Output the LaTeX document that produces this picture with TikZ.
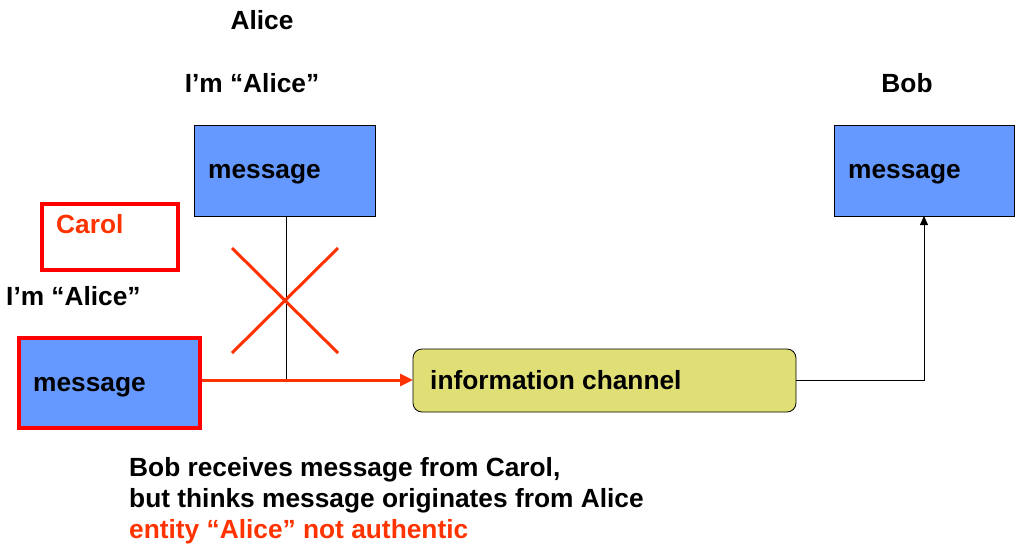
\documentclass[tikz,border=0pt]{standalone}
\usepackage{fontspec}
\setmainfont{Liberation Sans}
\usetikzlibrary{arrows.meta}
\definecolor{msgblue}{HTML}{6699FF}
\definecolor{chanyellow}{HTML}{E0DF75}
\definecolor{alertred}{HTML}{FF3300}
\definecolor{boxred}{HTML}{FF0000}
\begin{document}
\begin{tikzpicture}[x=1pt,y=-1pt,
  txt/.style={inner sep=0pt,font=\fontsize{26.3}{31}\selectfont\bfseries},
  msgbox/.style={draw=black,line width=0.8pt,fill=msgblue},
  badbox/.style={draw=boxred,line width=3.2pt},
  redline/.style={draw=alertred,line width=3pt},
  thin/.style={draw=black,line width=0.8pt}]
\useasboundingbox (0,0) rectangle (1021,547);
% boxes
\path[msgbox] (194,125) rectangle (375,216);
\coordinate (aliceboxbot) at (286,216);
\path[msgbox] (834,125) rectangle (1014,216);
\coordinate (bobboxbot) at (924,216);
\path[badbox,fill=white] (42,204) rectangle (178,270);
\path[badbox,fill=msgblue] (19,338) rectangle (200,428);
\coordinate (carolright) at (201.6,380);
\path[thin,fill=chanyellow,rounded corners=9pt] (413,349) rectangle (796,412);
\coordinate (chanleft) at (413,380);
\coordinate (chanright) at (796,380);
\coordinate (join) at (286,380);
\coordinate (corner) at (924,380);
% texts
\node[txt,anchor=base] (alice) at (262,29) {Alice};
\node[txt,anchor=base] (imalice1) at (252,92) {I’m “Alice”};
\node[txt,anchor=base] (bob) at (907,92) {Bob};
\node[txt,anchor=base west] (msg1) at (208,178) {message};
\node[txt,anchor=base west] (msg2) at (848,178) {message};
\node[txt,anchor=base west,text=alertred] (carol) at (56,233) {Carol};
\node[txt,anchor=base west] (imalice2) at (6,305) {I’m “Alice”};
\node[txt,anchor=base west] (msg3) at (33,391) {message};
\node[txt,anchor=base west] (chan) at (430,389) {information channel};
\node[txt,anchor=base west] (l1) at (129,476) {Bob receives message from Carol,};
\node[txt,anchor=base west] (l2) at (129,507) {but thinks message originates from Alice};
\node[txt,anchor=base west,text=alertred] (l3) at (129,538) {entity “Alice” not authentic};
% connectors
\draw[thin] (aliceboxbot) -- (join);
\draw[redline,-{Triangle[length=13pt,width=12pt]}] (carolright) -- (chanleft);
\draw[thin,-{Triangle[length=9pt,width=8pt]}] (chanright) -- (corner) -- (bobboxbot);
% cross
\draw[redline] (232,248) -- (338,353) (338,248) -- (232,353);
\end{tikzpicture}
\end{document}
